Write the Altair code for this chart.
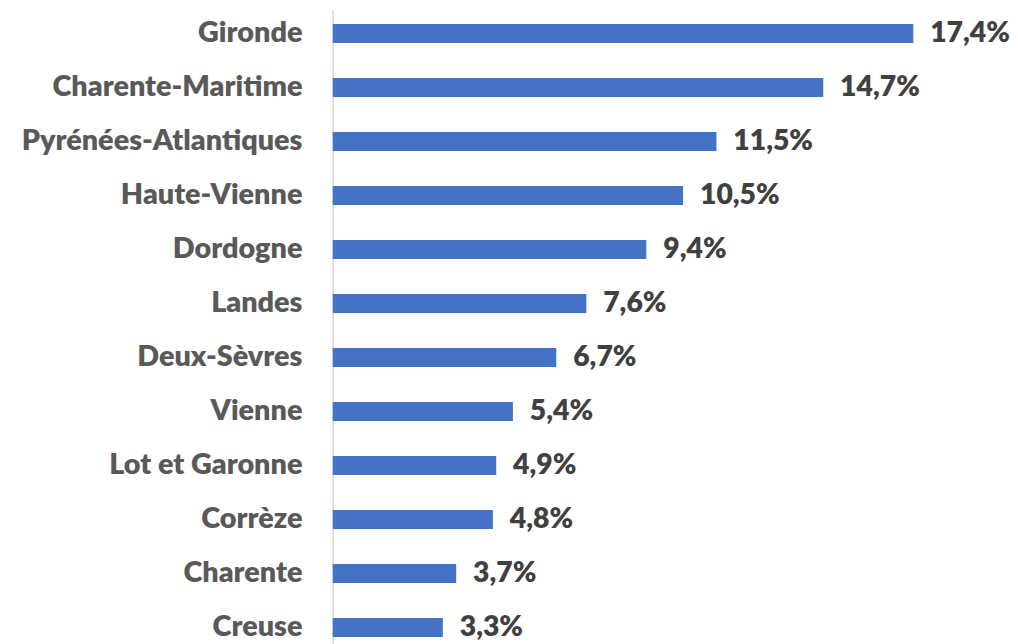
import altair as alt
import pandas as pd

departements = ["Gironde", "Charente-Maritime", "Pyrénées-Atlantiques", "Haute-Vienne",
                "Dordogne", "Landes", "Deux-Sèvres", "Vienne", "Lot et Garonne",
                "Corrèze", "Charente", "Creuse"]
valeurs = [17.4, 14.7, 11.5, 10.5, 9.4, 7.6, 6.7, 5.4, 4.9, 4.8, 3.7, 3.3]
etiquettes = ["17,4%", "14,7%", "11,5%", "10,5%", "9,4%", "7,6%", "6,7%", "5,4%",
              "4,9%", "4,8%", "3,7%", "3,3%"]

df = pd.DataFrame({"dep": departements, "val": valeurs, "lab": etiquettes})

FONT = "Lato"

y_enc = alt.Y("dep:N", sort=departements, title=None,
              scale=alt.Scale(paddingInner=0.65, paddingOuter=0.257),
              axis=alt.Axis(domainColor="#d9d9d9", domainWidth=1.5, ticks=False,
                            labelPadding=31, labelFont=FONT, labelFontSize=29,
                            labelFontWeight=800, labelColor="#595959",
                            labelLimit=400))
x_enc = alt.X("val:Q", title=None, scale=alt.Scale(domain=[0, 20]), axis=None)

bars = alt.Chart(df).mark_bar(color="#4472C4").encode(x=x_enc, y=y_enc)
text = alt.Chart(df).mark_text(align="left", baseline="middle", dx=17, font=FONT,
                               fontSize=28.5, fontWeight=800, color="#404040").encode(
    x=x_enc, y=alt.Y("dep:N", sort=departements), text="lab:N")

chart = (bars + text).properties(
    width=672, height=645,
    autosize=alt.AutoSizeParams(type="none"),
    padding={"left": 327, "top": 0, "right": 10, "bottom": 0},
).configure_view(stroke=None)

chart.save("out.html", embed_options={"renderer": "svg", "actions": False})
